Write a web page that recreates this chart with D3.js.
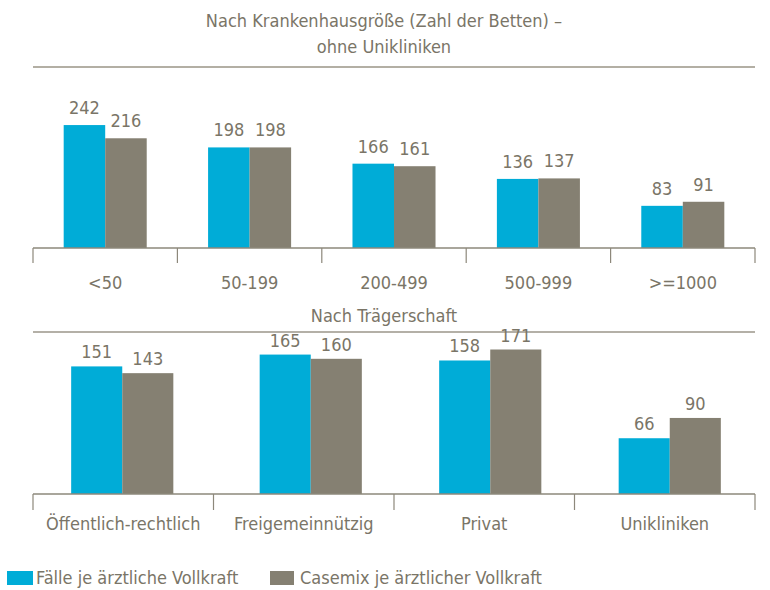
<!DOCTYPE html>
<html><head><meta charset="utf-8">
<script src="https://cdn.jsdelivr.net/npm/d3@7"></script>
<style>
body{margin:0;background:#fff;}
text{font-family:"Liberation Sans Narrow","DejaVu Sans Condensed","Roboto Condensed",sans-serif;fill:#7a7567;}
</style></head><body>
<script>
const sizeCategories = ["<50","50-199","200-499","500-999",">=1000"];
const sizeFaelle = [242,198,166,136,83];
const sizeCasemix = [216,198,161,137,91];
const traegerCategories = ["Öffentlich-rechtlich","Freigemeinnützig","Privat","Unikliniken"];
const traegerFaelle = [151,165,158,66];
const traegerCasemix = [143,160,171,90];
const seriesNames = ["Fälle je ärztliche Vollkraft","Casemix je ärztlicher Vollkraft"];
const colors = ["#00acd7","#858072"];

const W=770,H=590;
const svg=d3.select("body").append("svg").attr("width",W).attr("height",H);
const fs=18;

function panel(cats, a, b, opt){
  const x=d3.scaleBand().domain(cats).range([33,755]).paddingInner(0).paddingOuter(0);
  const y=d3.scaleLinear().domain([0,opt.max]).range([opt.base,opt.base-opt.max*opt.k]);
  const bw=x.bandwidth()*opt.frac/2;
  const g=svg.append("g");
  const data=cats.map((c,i)=>({c,vals:[a[i],b[i]]}));
  data.forEach(d=>{
    d.vals.forEach((v,j)=>{
      const cx=x(d.c)+x.bandwidth()/2+opt.shift(cats.indexOf(d.c));
      const x0=cx-bw+j*bw;
      g.append("rect").attr("x",x0).attr("y",y(v)).attr("width",bw).attr("height",opt.base-y(v)).attr("fill",colors[j]);
      g.append("text").attr("x",x0+bw/2).attr("y",y(v)-opt.gap).attr("text-anchor","middle").attr("font-size",fs).text(v);
    });
  });
  g.append("line").attr("x1",33).attr("x2",755).attr("y1",opt.base).attr("y2",opt.base).attr("stroke","#8d887b").attr("stroke-width",1.5);
  const ticks=cats.map(c=>x(c)).concat([x.range()[1]]);
  ticks.forEach(t=>g.append("line").attr("x1",t).attr("x2",t).attr("y1",opt.base).attr("y2",opt.tickEnd).attr("stroke","#8d887b").attr("stroke-width",1.2));
  cats.forEach(c=>g.append("text").attr("x",x(c)+x.bandwidth()/2).attr("y",opt.labelY).attr("text-anchor","middle").attr("font-size",fs).text(c));
}

// titles
svg.append("text").attr("x",384).attr("y",27).attr("text-anchor","middle").attr("font-size",fs).text("Nach Krankenhausgröße (Zahl der Betten) –");
svg.append("text").attr("x",384).attr("y",53).attr("text-anchor","middle").attr("font-size",fs).text("ohne Unikliniken");
svg.append("line").attr("x1",33).attr("x2",755).attr("y1",67).attr("y2",67).attr("stroke","#b3afa4").attr("stroke-width",2);

panel(sizeCategories,sizeFaelle,sizeCasemix,{max:250,base:248,k:0.508,frac:0.575,gap:11,tickEnd:263,labelY:289,shift:()=>0});

svg.append("text").attr("x",384).attr("y",322).attr("text-anchor","middle").attr("font-size",fs).text("Nach Trägerschaft");
svg.append("line").attr("x1",33).attr("x2",755).attr("y1",332).attr("y2",332).attr("stroke","#9b968a").attr("stroke-width",1.5);

panel(traegerCategories,traegerFaelle,traegerCasemix,{max:200,base:494,k:0.845,frac:0.566,gap:8,tickEnd:510,labelY:530,shift:i=>[-1,7,6,5][i]});

// legend
const lg=svg.append("g");
lg.append("rect").attr("x",7).attr("y",571).attr("width",26).attr("height",14).attr("fill",colors[0]);
lg.append("text").attr("x",36).attr("y",584).attr("font-size",fs).text(seriesNames[0]);
lg.append("rect").attr("x",270).attr("y",571).attr("width",24).attr("height",14).attr("fill",colors[1]);
lg.append("text").attr("x",300).attr("y",584).attr("font-size",fs).text(seriesNames[1]);
</script>
</body></html>
